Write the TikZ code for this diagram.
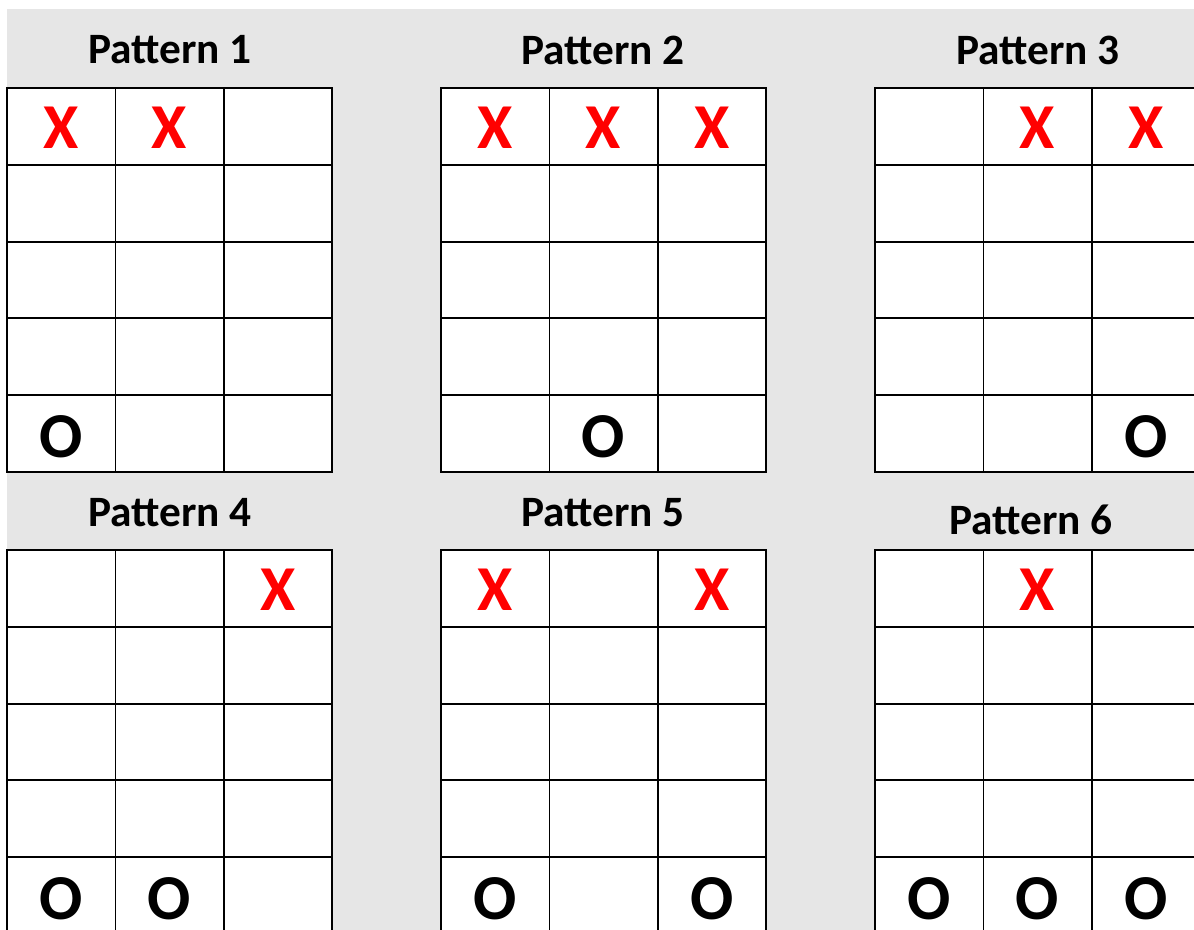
\documentclass[tikz,border=0pt]{standalone}
\usepackage{fontspec}
\setmainfont{Carlito}
\usepackage{tikz}
\definecolor{panelbg}{HTML}{E6E6E6}
\definecolor{markred}{HTML}{FF0000}
\tikzset{
  cell/.style={draw=black,line width=1.3pt,fill=white,inner sep=0pt,outer sep=0pt,
    minimum width=81.3pt,minimum height=57.5pt},
  title/.style={font=\fontsize{32.5}{33}\selectfont\bfseries,inner sep=0pt},
  xmark/.style={font=\fontsize{48}{48}\selectfont\bfseries,text=markred,inner sep=0pt},
  omark/.style={font=\fontsize{48}{48}\selectfont\bfseries,text=black,inner sep=0pt}
}
\begin{document}
\begin{tikzpicture}[x=0.75pt,y=-0.75pt]
\useasboundingbox (0,0) rectangle (1194,930);
\clip (0,0) rectangle (1194,930);
\fill[panelbg] (7,9) rectangle (1194,930);
% six boards, five rows by three columns
\foreach \g/\gx/\gy in {1/7/88,2/441/88,3/875/88,4/7/550,5/441/550,6/875/550}{
  \foreach \r in {1,...,5}
    \foreach \c in {1,2,3}
      \node[cell] (p\g-\r-\c) at ({\gx+(\c-0.5)*108.4},{\gy+(\r-0.5)*76.8}) {};
}
\node[title] (t1) at (170,50) {Pattern 1};
\node[title] (t2) at (603,50) {Pattern 2};
\node[title] (t3) at (1038,50) {Pattern 3};
\node[title] (t4) at (170,513) {Pattern 4};
\node[title] (t5) at (603,513) {Pattern 5};
\node[title] (t6) at (1031,520) {Pattern 6};
% marks
\foreach \g/\c in {1/1,1/2,2/1,2/2,2/3,3/2,3/3,4/3,5/1,5/3,6/2}
  \node[xmark] (x\g\c) at ([yshift=-1pt]p\g-1-\c) {X};
\foreach \g/\c in {1/1,2/2,3/3,4/1,4/2,5/1,5/3,6/1,6/2,6/3}
  \node[omark] (o\g\c) at ([yshift=-2pt]p\g-5-\c) {O};
\end{tikzpicture}
\end{document}
